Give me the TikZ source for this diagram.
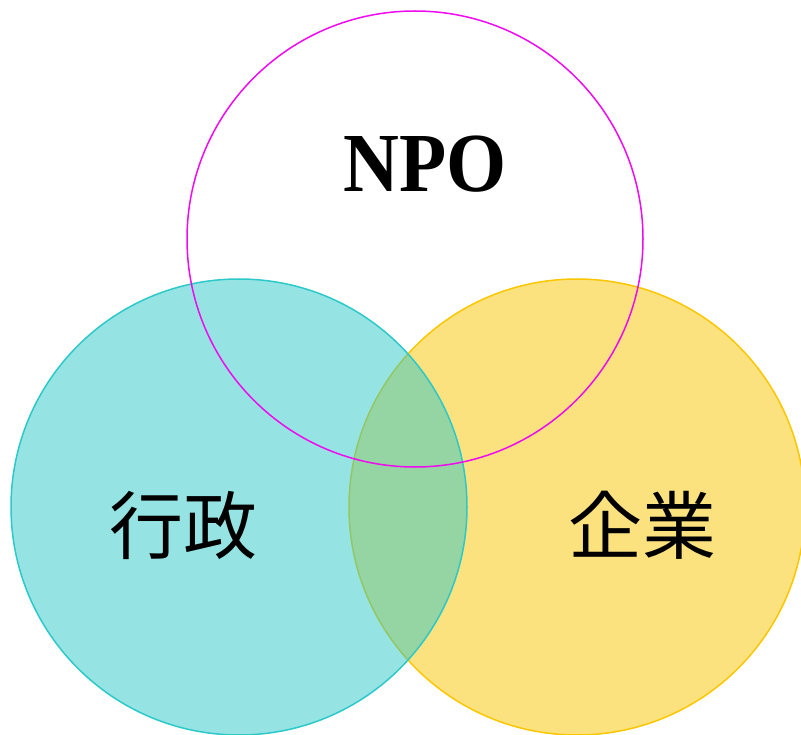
\documentclass[tikz,border=0pt]{standalone}
\usepackage{fontspec}
\setmainfont{Liberation Serif}
\newfontfamily\cjk{Noto Sans CJK JP}
\definecolor{npoline}{RGB}{240,10,240}
\definecolor{gyoline}{RGB}{45,200,200}
\definecolor{kigline}{RGB}{250,198,0}
\tikzset{
  venn/.style={circle, inner sep=0pt, minimum size=456pt, line width=1.5pt},
  lbl/.style={inner sep=0pt, anchor=center, text=black},
}
\begin{document}
\begin{tikzpicture}[x=1pt,y=-1pt]
\useasboundingbox (0,0) rectangle (801,735);
\clip (0,0) rectangle (801,735);
\node[venn, draw=kigline, fill=kigline, fill opacity=0.5, draw opacity=1] (kigyo) at (577,507) {};
\node[venn, draw=gyoline, fill=gyoline, fill opacity=0.5, draw opacity=1] (gyosei) at (239,507) {};
\node[venn, draw=npoline] (npo) at (415,239) {};
\node[lbl, font=\bfseries\fontsize{84}{84}\selectfont, xscale=0.92] (tnpo) at (425,164) {NPO};
\node[lbl, font=\cjk\fontsize{74}{74}\selectfont] (tgyo) at (183,525) {行政};
\node[lbl, font=\cjk\fontsize{74}{74}\selectfont] (tkig) at (642,525) {企業};
\end{tikzpicture}
\end{document}
